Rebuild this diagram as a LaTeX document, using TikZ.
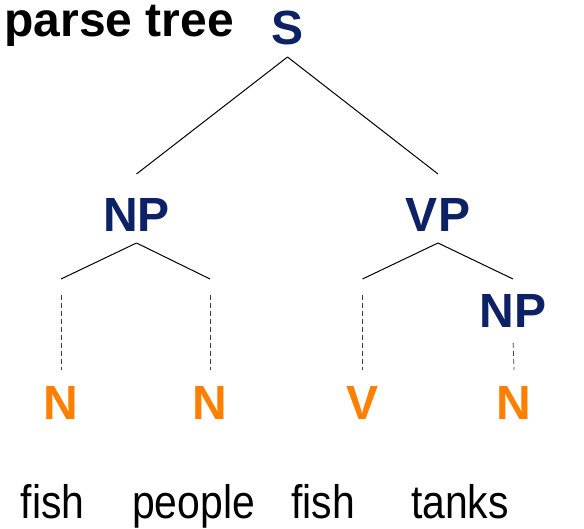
\documentclass[tikz,border=0pt]{standalone}
\usepackage{fontspec}
\setmainfont{Liberation Sans}
\newfontfamily\wordfont[FakeStretch=0.87]{Liberation Sans}
\usetikzlibrary{positioning}

\definecolor{navy}{RGB}{12,34,100}
\definecolor{tagorange}{RGB}{255,128,0}

\begin{document}
\begin{tikzpicture}[x=1pt, y=-1pt, line width=1pt,
  phrase/.style={text=navy, font=\fontsize{48}{48}\selectfont\bfseries,
    inner sep=0pt, outer sep=0pt, anchor=base, text height=58pt, text depth=11pt},
  tag/.style={text=tagorange, font=\fontsize{48}{48}\selectfont\bfseries,
    inner sep=0pt, outer sep=0pt, anchor=base, text height=49pt, text depth=0pt},
  word/.style={font=\wordfont\fontsize{47}{47}\selectfont, anchor=base, inner sep=0pt},
  lex/.style={line width=0.8pt, black!75, dash pattern=on 5pt off 3pt}]
\useasboundingbox (0,0) rectangle (584,529);

\node[font=\fontsize{48}{48}\selectfont\bfseries, anchor=base west, inner sep=0pt] (title) at (4,37) {parse tree};

% phrase labels
\node[phrase, text depth=12pt] (S) at (287.5,45) {S};
\node[phrase] (NP) at (136.5,232) {NP};
\node[phrase] (VP) at (438,232) {VP};
\node[phrase, text height=49pt] (NPobj) at (513,328) {NP};

% part-of-speech tags
\node[tag] (N1) at (61,419) {N};
\node[tag] (N2) at (210,419) {N};
\node[tag] (V) at (362.5,419) {V};
\node[tag] (N3) at (514,419) {N};

% the sentence
\node[word] (w1) at (52.5,518.5) {fish};
\node[word] (w2) at (193.5,518.5) {people};
\node[word] (w3) at (323,518.5) {fish};
\node[word] (w4) at (460,518.5) {tanks};

% branch tips above the tags
\coordinate (np-l) at (61,279);
\coordinate (np-r) at (210,279);
\coordinate (vp-l) at (362.5,279);

\draw (S.south) -- (NP.north);
\draw (S.south) -- (VP.north);
\draw (NP.south) -- (np-l);
\draw (NP.south) -- (np-r);
\draw (VP.south) -- (vp-l);
\draw (VP.south) -- (NPobj.north);

\draw[lex] ([yshift=-16pt]np-l) -- (N1.north);
\draw[lex] ([yshift=-16pt]np-r) -- (N2.north);
\draw[lex] ([yshift=-16pt]vp-l) -- (V.north);
\draw[lex, shorten <=4pt] (NPobj.south) -- (N3.north);
\end{tikzpicture}
\end{document}
